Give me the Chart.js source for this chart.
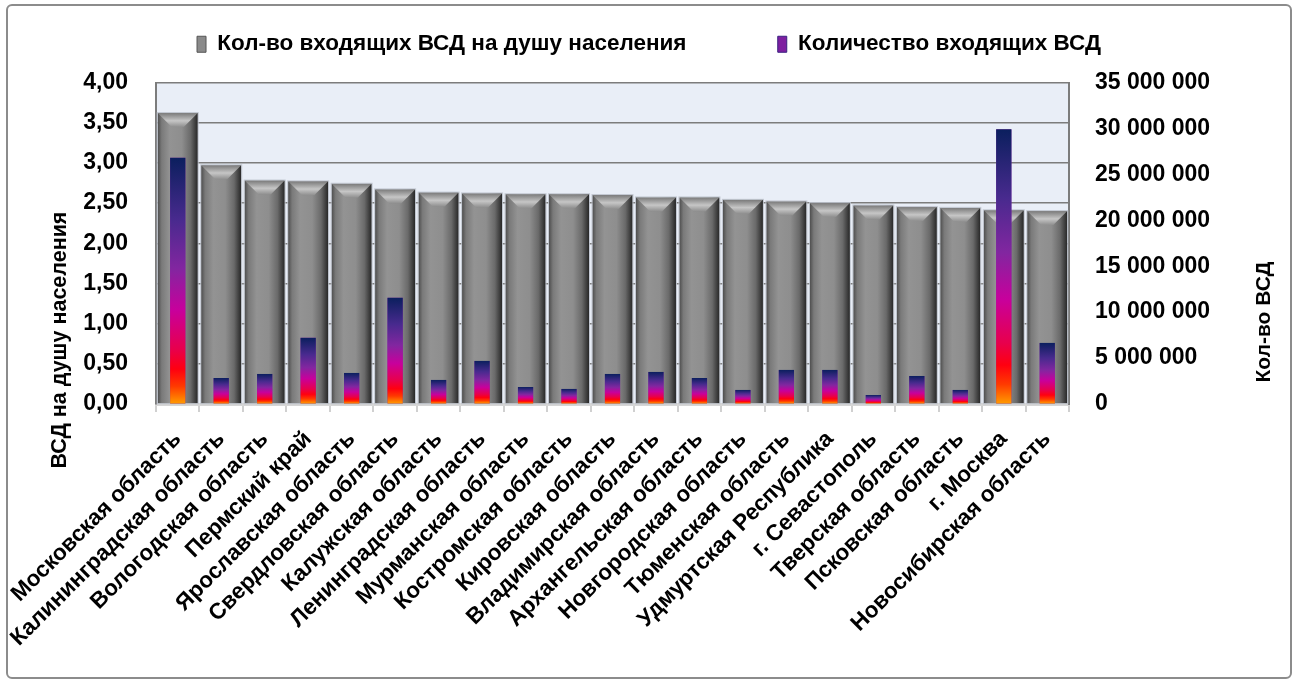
<!DOCTYPE html>
<html lang="ru">
<head>
<meta charset="UTF-8">
<title>Входящие ВСД по регионам</title>
<script src="https://cdn.jsdelivr.net/npm/chart.js@4.4.1/dist/chart.umd.min.js"></script>
<style>
  html, body { margin: 0; padding: 0; background: #fff; }
  #wrap { position: relative; width: 1298px; height: 683px; }
  #myChart { position: absolute; left: 0; top: 0; }
  #marco { position: absolute; left: 6px; top: 4px; width: 1282px; height: 671px;
           border: 2px solid #8c8c8c; border-radius: 6px; pointer-events: none; }
</style>
</head>
<body>
<div id="wrap">
  <canvas id="myChart" width="1298" height="683"></canvas>
  <div id="marco"></div>
</div>
<script>
// Регионы (ось X)
const regiones = [
  'Московская область', 'Калининградская область', 'Вологодская область', 'Пермский край',
  'Ярославская область', 'Свердловская область', 'Калужская область', 'Ленинградская область',
  'Мурманская область', 'Костромская область', 'Кировская область', 'Владимирская область',
  'Архангельская область', 'Новгородская область', 'Тюменская область', 'Удмуртская Республика',
  'г. Севастополь', 'Тверская область', 'Псковская область', 'г. Москва', 'Новосибирская область'
];

// Кол-во входящих ВСД на душу населения (левая ось)
const vsdNaDushu = [3.62, 2.97, 2.78, 2.77, 2.74, 2.67, 2.63, 2.62, 2.61, 2.61, 2.60,
                    2.57, 2.57, 2.54, 2.52, 2.50, 2.47, 2.45, 2.44, 2.41, 2.40];

// Количество входящих ВСД (правая ось)
const vsdVsego = [26800000, 2830000, 3270000, 7200000, 3380000, 11560000, 2620000,
                  4690000, 1850000, 1640000, 3270000, 3490000, 2830000, 1530000,
                  3710000, 3710000, 980000, 3050000, 1530000, 29900000, 6650000];

const nombreSerie1 = 'Кол-во входящих ВСД на душу населения';
const nombreSerie2 = 'Количество входящих ВСД';
const tituloIzq = 'ВСД на душу населения';
const tituloDer = 'Кол-во ВСД';

const fuente = '"Liberation Sans", Arial, sans-serif';
Chart.defaults.font.family = fuente;
Chart.defaults.font.weight = 'bold';
Chart.defaults.color = '#000';

// Фон области построения
const fondoArea = {
  id: 'fondoArea',
  beforeDraw(chart) {
    const { ctx, chartArea: a } = chart;
    ctx.save();
    ctx.fillStyle = '#e9eef7';
    ctx.fillRect(a.left, a.top, a.right - a.left, a.bottom - a.top);
    ctx.restore();
  }
};

// Градиентная заливка столбцов поверх стандартной
const relleno = {
  id: 'relleno',
  afterDatasetDraw(chart, args) {
    const ctx = chart.ctx;
    const meta = args.meta;
    ctx.save();
    meta.data.forEach(el => {
      const { x, y, base, width } = el.getProps(['x', 'y', 'base', 'width'], true);
      const x0 = x - width / 2;
      const h = base - y;
      if (meta.index === 0) {
        const g = ctx.createLinearGradient(x0, 0, x0 + width, 0);
        g.addColorStop(0, '#4e4e4e');
        g.addColorStop(0.1, '#7a7a7a');
        g.addColorStop(0.3, '#939393');
        g.addColorStop(0.6, '#8e8e8e');
        g.addColorStop(0.82, '#6a6a6a');
        g.addColorStop(1, '#272727');
        ctx.fillStyle = g;
        ctx.fillRect(x0, y, width, h);
        // скос сверху
        const b = Math.min(14, h / 2);
        ctx.beginPath();
        ctx.moveTo(x0, y);
        ctx.lineTo(x0 + width, y);
        ctx.lineTo(x0 + width - b, y + b);
        ctx.lineTo(x0 + b, y + b);
        ctx.closePath();
        const gb = ctx.createLinearGradient(0, y, 0, y + b);
        gb.addColorStop(0, '#7a7a7a');
        gb.addColorStop(0.55, '#c6c6c6');
        gb.addColorStop(1, '#8e8e8e');
        ctx.fillStyle = gb;
        ctx.fill();
        ctx.strokeStyle = 'rgba(190,195,205,0.9)';
        ctx.lineWidth = 1;
        ctx.strokeRect(x0 - 0.5, y - 0.5, width + 1, h + 1);
      } else {
        const g = ctx.createLinearGradient(0, y, 0, base);
        g.addColorStop(0, '#0b1f5e');
        g.addColorStop(0.25, '#482a8e');
        g.addColorStop(0.45, '#8226a0');
        g.addColorStop(0.62, '#c8009c');
        g.addColorStop(0.78, '#e8004c');
        g.addColorStop(0.86, '#ff0010');
        g.addColorStop(0.93, '#ff3a00');
        g.addColorStop(1, '#ff9a00');
        ctx.fillStyle = g;
        ctx.fillRect(x0, y, width, h);
      }
    });
    ctx.restore();
  }
};

// Подписи осей
const titulosEjes = {
  id: 'titulosEjes',
  afterDraw(chart) {
    const { ctx, chartArea: a } = chart;
    ctx.save();
    ctx.font = 'bold 21.5px ' + fuente;
    ctx.fillStyle = '#000';
    ctx.textAlign = 'center';
    ctx.textBaseline = 'middle';
    ctx.translate(a.left - 96, a.bottom - 64);
    ctx.rotate(-Math.PI / 2);
    ctx.fillText(tituloIzq, 0, 0);
    ctx.restore();

    ctx.save();
    ctx.font = 'bold 21px ' + fuente;
    ctx.fillStyle = '#000';
    ctx.textAlign = 'center';
    ctx.textBaseline = 'middle';
    ctx.translate(a.right + 195, a.bottom - 82);
    ctx.rotate(-Math.PI / 2);
    ctx.fillText(tituloDer, 0, 0);
    ctx.restore();
  }
};

// Отступ под легендой
const espacioLeyenda = {
  id: 'espacioLeyenda',
  beforeInit(chart) {
    const fitOriginal = chart.legend.fit;
    chart.legend.fit = function () {
      fitOriginal.bind(chart.legend)();
      this.height += 17;
    };
  }
};

const fmtIzq = v => v.toFixed(2).replace('.', ',');
const fmtDer = v => String(Math.round(v)).replace(/\B(?=(\d{3})+(?!\d))/g, ' ');

const canvas = document.getElementById('myChart');
const myChart = new Chart(canvas, {
  type: 'bar',
  data: {
    labels: regiones,
    datasets: [
      {
        label: nombreSerie1,
        data: vsdNaDushu,
        yAxisID: 'y',
        backgroundColor: '#8c8c8c',
        barPercentage: 0.92,
        categoryPercentage: 1,
        grouped: false,
        order: 1
      },
      {
        label: nombreSerie2,
        data: vsdVsego,
        yAxisID: 'y1',
        backgroundColor: '#8226a0',
        barPercentage: 0.35,
        categoryPercentage: 1,
        grouped: false,
        order: 0
      }
    ]
  },
  options: {
    responsive: false,
    animation: false,
    layout: { padding: { top: 23, left: 0, right: 0, bottom: 0 } },
    plugins: {
      tooltip: { enabled: false },
      legend: {
        position: 'top',
        labels: {
          font: { size: 22.5, weight: 'bold' },
          color: '#000',
          boxWidth: 9,
          boxHeight: 16,
          padding: 10,
          sort: (a, b) => a.datasetIndex - b.datasetIndex,
          generateLabels(chart) {
            const items = Chart.defaults.plugins.legend.labels.generateLabels(chart);
            items.forEach(it => {
              if (it.datasetIndex === 0) {
                it.text = it.text + '\u00a0'.repeat(13);
                it.fillStyle = '#8a8a8a';
                it.strokeStyle = '#555';
              } else {
                it.fillStyle = '#7e1fa0';
                it.strokeStyle = '#3a2080';
              }
              it.lineWidth = 1;
            });
            return items;
          }
        }
      }
    },
    scales: {
      x: {
        offset: true,
        grid: { display: true, drawOnChartArea: false, drawTicks: true, tickLength: 8,
                color: '#d0d0d0', lineWidth: 2, offset: true },
        border: { display: true, color: '#d6d6d6', width: 3 },
        ticks: { autoSkip: false, minRotation: 45, maxRotation: 45, padding: 14,
                 font: { size: 22.5, weight: 'bold' }, color: '#000' },
        afterFit: s => {
          s.height = 279;
          // подписи и так помещаются слева, не сдвигаем область построения
          s.paddingLeft = 0;
          s.paddingRight = 0;
        }
      },
      y: {
        position: 'left',
        min: 0,
        max: 4,
        ticks: { stepSize: 0.5, padding: 28, callback: v => fmtIzq(v),
                 font: { size: 23, weight: 'bold' }, color: '#000' },
        grid: { color: '#7c7c7c', lineWidth: 1.5, drawTicks: false },
        border: { display: true, color: '#7c7c7c', width: 2 },
        afterFit: s => { s.width = 156; }
      },
      y1: {
        position: 'right',
        min: 0,
        max: 35000000,
        ticks: { stepSize: 5000000, padding: 26, callback: v => fmtDer(v),
                 font: { size: 23, weight: 'bold' }, color: '#000' },
        grid: { drawOnChartArea: false, drawTicks: false },
        border: { display: true, color: '#7c7c7c', width: 2 },
        afterFit: s => { s.width = 229; }
      }
    }
  },
  plugins: [espacioLeyenda, fondoArea, relleno, titulosEjes]
});
</script>
</body>
</html>
